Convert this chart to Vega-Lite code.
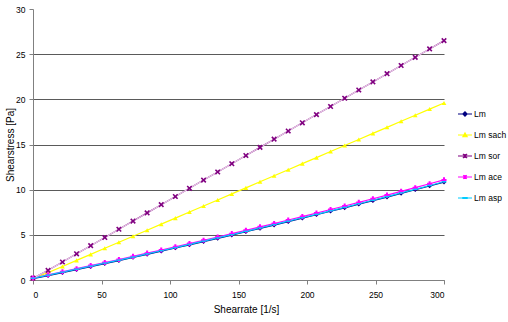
{
  "$schema": "https://vega.github.io/schema/vega-lite/v6.json",
  "width": 411,
  "height": 271,
  "autosize": "none",
  "padding": {"left": 33, "top": 9, "right": 64, "bottom": 42},
  "background": "white",
  "config": {
    "view": {"stroke": null},
    "font": "Liberation Sans",
    "axis": {
      "domainColor": "#808080",
      "tickColor": "#808080",
      "tickSize": 4,
      "labelColor": "#000000",
      "labelFontSize": 8.5,
      "labelFont": "Liberation Sans",
      "titleFont": "Liberation Sans",
      "titleFontSize": 10,
      "titleFontWeight": "normal",
      "titleColor": "#000000"
    },
    "legend": {"labelFont": "Liberation Sans", "labelFontSize": 8.5, "labelColor": "#000000"}
  },
  "data": {
    "values": [
      {"x": 0, "Lm": 0.15, "Lm sach": 0.2, "Lm sor": 0.2, "Lm ace": 0.22, "Lm asp": 0.2},
      {"x": 11, "Lm": 0.49, "Lm sach": 0.82, "Lm sor": 1.07, "Lm ace": 0.58, "Lm asp": 0.54},
      {"x": 21.5, "Lm": 0.82, "Lm sach": 1.5, "Lm sor": 1.99, "Lm ace": 0.91, "Lm asp": 0.87},
      {"x": 31.8, "Lm": 1.15, "Lm sach": 2.17, "Lm sor": 2.9, "Lm ace": 1.25, "Lm asp": 1.2},
      {"x": 42.1, "Lm": 1.48, "Lm sach": 2.84, "Lm sor": 3.8, "Lm ace": 1.59, "Lm asp": 1.53},
      {"x": 52.4, "Lm": 1.82, "Lm sach": 3.51, "Lm sor": 4.71, "Lm ace": 1.93, "Lm asp": 1.87},
      {"x": 62.7, "Lm": 2.15, "Lm sach": 4.18, "Lm sor": 5.62, "Lm ace": 2.27, "Lm asp": 2.2},
      {"x": 73, "Lm": 2.49, "Lm sach": 4.85, "Lm sor": 6.52, "Lm ace": 2.61, "Lm asp": 2.54},
      {"x": 83.3, "Lm": 2.84, "Lm sach": 5.51, "Lm sor": 7.43, "Lm ace": 2.97, "Lm asp": 2.89},
      {"x": 93.6, "Lm": 3.19, "Lm sach": 6.18, "Lm sor": 8.34, "Lm ace": 3.32, "Lm asp": 3.24},
      {"x": 103.9, "Lm": 3.54, "Lm sach": 6.85, "Lm sor": 9.24, "Lm ace": 3.68, "Lm asp": 3.59},
      {"x": 114.2, "Lm": 3.89, "Lm sach": 7.52, "Lm sor": 10.15, "Lm ace": 4.03, "Lm asp": 3.94},
      {"x": 124.5, "Lm": 4.25, "Lm sach": 8.19, "Lm sor": 11.06, "Lm ace": 4.4, "Lm asp": 4.3},
      {"x": 134.8, "Lm": 4.61, "Lm sach": 8.86, "Lm sor": 11.96, "Lm ace": 4.76, "Lm asp": 4.66},
      {"x": 145.1, "Lm": 4.97, "Lm sach": 9.53, "Lm sor": 12.87, "Lm ace": 5.13, "Lm asp": 5.02},
      {"x": 155.4, "Lm": 5.34, "Lm sach": 10.2, "Lm sor": 13.78, "Lm ace": 5.5, "Lm asp": 5.39},
      {"x": 165.7, "Lm": 5.71, "Lm sach": 10.87, "Lm sor": 14.68, "Lm ace": 5.88, "Lm asp": 5.76},
      {"x": 176, "Lm": 6.08, "Lm sach": 11.54, "Lm sor": 15.59, "Lm ace": 6.25, "Lm asp": 6.13},
      {"x": 186.3, "Lm": 6.46, "Lm sach": 12.21, "Lm sor": 16.49, "Lm ace": 6.64, "Lm asp": 6.51},
      {"x": 196.6, "Lm": 6.84, "Lm sach": 12.88, "Lm sor": 17.4, "Lm ace": 7.02, "Lm asp": 6.89},
      {"x": 206.9, "Lm": 7.22, "Lm sach": 13.55, "Lm sor": 18.31, "Lm ace": 7.41, "Lm asp": 7.27},
      {"x": 217.2, "Lm": 7.61, "Lm sach": 14.22, "Lm sor": 19.21, "Lm ace": 7.8, "Lm asp": 7.66},
      {"x": 227.5, "Lm": 7.99, "Lm sach": 14.89, "Lm sor": 20.12, "Lm ace": 8.19, "Lm asp": 8.04},
      {"x": 237.8, "Lm": 8.39, "Lm sach": 15.56, "Lm sor": 21.03, "Lm ace": 8.59, "Lm asp": 8.44},
      {"x": 248.1, "Lm": 8.78, "Lm sach": 16.23, "Lm sor": 21.93, "Lm ace": 8.99, "Lm asp": 8.83},
      {"x": 258.4, "Lm": 9.18, "Lm sach": 16.9, "Lm sor": 22.84, "Lm ace": 9.4, "Lm asp": 9.23},
      {"x": 268.7, "Lm": 9.59, "Lm sach": 17.57, "Lm sor": 23.75, "Lm ace": 9.81, "Lm asp": 9.64},
      {"x": 279, "Lm": 9.99, "Lm sach": 18.24, "Lm sor": 24.65, "Lm ace": 10.22, "Lm asp": 10.04},
      {"x": 289.5, "Lm": 10.41, "Lm sach": 18.92, "Lm sor": 25.58, "Lm ace": 10.65, "Lm asp": 10.46},
      {"x": 300, "Lm": 10.84, "Lm sach": 19.6, "Lm sor": 26.5, "Lm ace": 11.08, "Lm asp": 10.88}
    ]
  },
  "transform": [
    {"fold": ["Lm", "Lm sach", "Lm sor", "Lm ace", "Lm asp"], "as": ["s", "y"]}
  ],
  "encoding": {
    "x": {
      "field": "x",
      "type": "quantitative",
      "scale": {"domain": [0, 300], "nice": false},
      "axis": {
        "values": [0, 50, 100, 150, 200, 250, 300],
        "title": "Shearrate [1/s]",
        "grid": false,
        "labelPadding": 6,
        "titlePadding": 6,
        "titleX": 213,
        "titleAnchor": "start",
        "titleAlign": "center"
      }
    },
    "y": {
      "field": "y",
      "type": "quantitative",
      "scale": {"domain": [0, 30], "nice": false},
      "axis": {
        "values": [0, 5, 10, 15, 20, 25, 30],
        "title": "Shearstress [Pa]",
        "grid": true,
        "gridColor": "#5a5a5a",
        "gridWidth": 1,
        "gridOpacity": {"condition": {"test": "datum.value === 30", "value": 0}, "value": 1},
        "labelPadding": 4,
        "titlePadding": 0
      }
    }
  },
  "layer": [
    {
      "mark": {"type": "line"},
      "encoding": {
        "color": {
          "field": "s",
          "type": "nominal",
          "scale": {
            "domain": ["Lm", "Lm sach", "Lm sor", "Lm ace", "Lm asp"],
            "range": ["#000080", "#FFFF00", "#800080", "#FF00FF", "#00CCFF"]
          },
          "legend": {
            "title": null,
            "orient": "none",
            "legendX": 424,
            "legendY": 97,
            "symbolSize": 196,
            "symbolStrokeWidth": 1.3,
            "rowPadding": 8,
            "labelOffset": 1,
            "encode": {
              "symbols": {
                "update": {
                  "shape": {"signal": "datum.value === 'Lm' ? 'M-1,0L1,0M-0.3,0L0,-0.32L0.3,0L0,0.32Z' : datum.value === 'Lm sach' ? 'M-1,0L1,0M-0.3,0.25L0,-0.3L0.3,0.25Z' : datum.value === 'Lm sor' ? 'M-1,0L1,0M-0.3,-0.3L0.3,0.3M-0.3,0.3L0.3,-0.3M0,-0.3L0,0.3' : datum.value === 'Lm ace' ? 'M-1,0L1,0M0,-0.3L0,0.3M-0.25,-0.25L0.25,0.25M-0.25,0.25L0.25,-0.25' : 'M-1,0L1,0M-0.3,-0.06L0.3,-0.06L0.3,0.06L-0.3,0.06Z'"},
                  "size": {"value": 196},
                  "strokeWidth": {"value": 1.3},
                  "fill": {"scale": "color", "field": "value"},
                  "stroke": {"scale": "color", "field": "value"},
                  "fillOpacity": {"value": 1},
                  "strokeOpacity": {"value": 1}
                }
              }
            }
          }
        },
        "strokeWidth": {
          "field": "s",
          "type": "nominal",
          "scale": {
            "domain": ["Lm", "Lm sach", "Lm sor", "Lm ace", "Lm asp"],
            "range": [1.2, 1.2, 3.4, 1.5, 2]
          },
          "legend": null
        }
      }
    },
    {
      "transform": [{"filter": "datum.s === 'Lm sor'"}],
      "mark": {"type": "line", "color": "#ecd2ec", "strokeWidth": 1.1}
    },
    {
      "mark": {"type": "point", "filled": true, "opacity": 1},
      "encoding": {
        "color": {"field": "s", "type": "nominal", "legend": null},
        "shape": {
          "condition": [
            {"test": "datum.s === 'Lm'", "value": "diamond"},
            {"test": "datum.s === 'Lm sach'", "value": "triangle-up"},
            {"test": "datum.s === 'Lm sor'", "value": "M-1,-0.6L-0.6,-1L0,-0.4L0.6,-1L1,-0.6L0.4,0L1,0.6L0.6,1L0,0.4L-0.6,1L-1,0.6L-0.4,0Z"},
            {"test": "datum.s === 'Lm ace'", "value": "cross"}
          ],
          "value": "M-1,-0.3L1,-0.3L1,0.3L-1,0.3Z"
        },
        "size": {
          "condition": [
            {"test": "datum.s === 'Lm sor'", "value": 32},
            {"test": "datum.s === 'Lm ace'", "value": 26}
          ],
          "value": 22
        }
      }
    }
  ]
}
